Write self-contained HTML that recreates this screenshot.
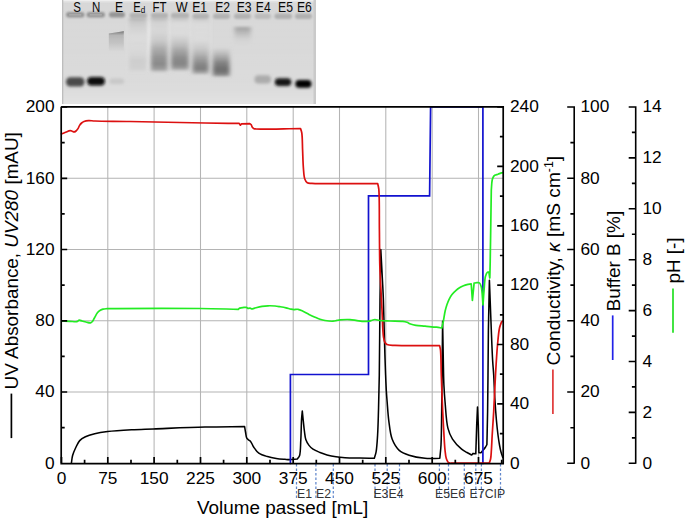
<!DOCTYPE html>
<html><head><meta charset="utf-8"><style>html,body{margin:0;padding:0;background:#fff;overflow:hidden}</style></head>
<body><svg width="685" height="519" viewBox="0 0 685 519" style="display:block">
<rect width="685" height="519" fill="#fff"/>
<defs><filter id="b1" x="-50%" y="-50%" width="200%" height="200%"><feGaussianBlur stdDeviation="1.4"/></filter><filter id="b2" x="-50%" y="-50%" width="200%" height="200%"><feGaussianBlur stdDeviation="1.3"/></filter><filter id="b3" x="-50%" y="-50%" width="200%" height="200%"><feGaussianBlur stdDeviation="0.8"/></filter><filter id="b4" x="-50%" y="-50%" width="200%" height="200%"><feGaussianBlur stdDeviation="2.0"/></filter><filter id="b5" x="-50%" y="-50%" width="200%" height="200%"><feGaussianBlur stdDeviation="0.5"/></filter><filter id="bx" x="-50%" y="-50%" width="200%" height="200%"><feGaussianBlur stdDeviation="2.0 1.1"/></filter><clipPath id="gc"><rect x="62" y="0" width="254" height="104"/></clipPath><linearGradient id="vg1" x1="0" y1="0" x2="0" y2="1"><stop offset="0.000" stop-color="#fff" stop-opacity="0"/><stop offset="0.481" stop-color="#fff" stop-opacity="0.03"/><stop offset="0.865" stop-color="#fff" stop-opacity="0.1"/><stop offset="0.962" stop-color="#fff" stop-opacity="0.22"/><stop offset="1.000" stop-color="#fff" stop-opacity="0.3"/></linearGradient><linearGradient id="vg2" x1="0" y1="0" x2="0" y2="1"><stop offset="0.000" stop-color="#e8e8e8" stop-opacity="0"/><stop offset="0.085" stop-color="#e8e8e8" stop-opacity="0.9"/><stop offset="0.864" stop-color="#e8e8e8" stop-opacity="0.9"/><stop offset="1.000" stop-color="#e8e8e8" stop-opacity="0"/></linearGradient><linearGradient id="vg3" x1="0" y1="0" x2="0" y2="1"><stop offset="0.000" stop-color="#e2e2e2" stop-opacity="0"/><stop offset="0.085" stop-color="#e2e2e2" stop-opacity="0.7"/><stop offset="0.864" stop-color="#e2e2e2" stop-opacity="0.7"/><stop offset="1.000" stop-color="#e2e2e2" stop-opacity="0"/></linearGradient><linearGradient id="vg4" x1="0" y1="0" x2="0" y2="1"><stop offset="0.000" stop-color="#e0e0e0" stop-opacity="0"/><stop offset="0.085" stop-color="#e0e0e0" stop-opacity="0.6"/><stop offset="0.864" stop-color="#e0e0e0" stop-opacity="0.6"/><stop offset="1.000" stop-color="#e0e0e0" stop-opacity="0"/></linearGradient><linearGradient id="vg5" x1="0" y1="0" x2="0" y2="1"><stop offset="0.000" stop-color="#dedede" stop-opacity="0"/><stop offset="0.085" stop-color="#dedede" stop-opacity="0.5"/><stop offset="0.864" stop-color="#dedede" stop-opacity="0.5"/><stop offset="1.000" stop-color="#dedede" stop-opacity="0"/></linearGradient><linearGradient id="vg6" x1="0" y1="0" x2="0" y2="1"><stop offset="0.000" stop-color="#e0e0e0" stop-opacity="0"/><stop offset="0.085" stop-color="#e0e0e0" stop-opacity="0.5"/><stop offset="0.864" stop-color="#e0e0e0" stop-opacity="0.5"/><stop offset="1.000" stop-color="#e0e0e0" stop-opacity="0"/></linearGradient><linearGradient id="gE" x1="0" y1="0" x2="0" y2="1"><stop offset="0" stop-color="#505050" stop-opacity="0.95"/><stop offset="0.06" stop-color="#6a6a6a" stop-opacity="0.7"/><stop offset="0.2" stop-color="#939393" stop-opacity="0.5"/><stop offset="0.6" stop-color="#a0a0a0" stop-opacity="0.35"/><stop offset="1" stop-color="#aaa" stop-opacity="0"/></linearGradient><linearGradient id="vg7" x1="0" y1="0" x2="0" y2="1"><stop offset="0.000" stop-color="#a0a0a0" stop-opacity="0"/><stop offset="0.031" stop-color="#a0a0a0" stop-opacity="0.7"/><stop offset="0.063" stop-color="#b0b0b0" stop-opacity="0.45"/><stop offset="0.135" stop-color="#b8b8b8" stop-opacity="0.35"/><stop offset="0.225" stop-color="#c4c4c4" stop-opacity="0.2"/><stop offset="0.333" stop-color="#e2e2e2" stop-opacity="0.3"/><stop offset="0.586" stop-color="#d8d8d8" stop-opacity="0.2"/><stop offset="0.766" stop-color="#bcbcbc" stop-opacity="0.4"/><stop offset="0.910" stop-color="#bcbcbc" stop-opacity="0.35"/><stop offset="1.000" stop-color="#c0c0c0" stop-opacity="0"/></linearGradient><linearGradient id="vg8" x1="0" y1="0" x2="0" y2="1"><stop offset="0.000" stop-color="#a8a8a8" stop-opacity="0"/><stop offset="0.036" stop-color="#a8a8a8" stop-opacity="0.6"/><stop offset="0.089" stop-color="#c4c4c4" stop-opacity="0.35"/><stop offset="0.232" stop-color="#d0d0d0" stop-opacity="0.2"/><stop offset="0.411" stop-color="#a0a0a0" stop-opacity="0.25"/><stop offset="0.554" stop-color="#8c8c8c" stop-opacity="0.55"/><stop offset="0.714" stop-color="#848484" stop-opacity="0.8"/><stop offset="0.839" stop-color="#808080" stop-opacity="0.9"/><stop offset="0.929" stop-color="#868686" stop-opacity="0.75"/><stop offset="1.000" stop-color="#999" stop-opacity="0"/></linearGradient><linearGradient id="vg9" x1="0" y1="0" x2="0" y2="1"><stop offset="0.000" stop-color="#b0b0b0" stop-opacity="0"/><stop offset="0.036" stop-color="#b0b0b0" stop-opacity="0.4"/><stop offset="0.109" stop-color="#e0e0e0" stop-opacity="0.4"/><stop offset="0.309" stop-color="#e0e0e0" stop-opacity="0.3"/><stop offset="0.455" stop-color="#a0a0a0" stop-opacity="0.3"/><stop offset="0.600" stop-color="#888" stop-opacity="0.6"/><stop offset="0.745" stop-color="#7e7e7e" stop-opacity="0.85"/><stop offset="0.855" stop-color="#7a7a7a" stop-opacity="0.9"/><stop offset="0.927" stop-color="#808080" stop-opacity="0.7"/><stop offset="1.000" stop-color="#999" stop-opacity="0"/></linearGradient><linearGradient id="vg10" x1="0" y1="0" x2="0" y2="1"><stop offset="0.000" stop-color="#b8b8b8" stop-opacity="0"/><stop offset="0.034" stop-color="#b8b8b8" stop-opacity="0.3"/><stop offset="0.120" stop-color="#e0e0e0" stop-opacity="0.35"/><stop offset="0.393" stop-color="#e0e0e0" stop-opacity="0.3"/><stop offset="0.530" stop-color="#a8a8a8" stop-opacity="0.3"/><stop offset="0.667" stop-color="#8a8a8a" stop-opacity="0.6"/><stop offset="0.803" stop-color="#787878" stop-opacity="0.85"/><stop offset="0.889" stop-color="#747474" stop-opacity="0.9"/><stop offset="0.949" stop-color="#808080" stop-opacity="0.6"/><stop offset="1.000" stop-color="#999" stop-opacity="0"/></linearGradient><linearGradient id="vg11" x1="0" y1="0" x2="0" y2="1"><stop offset="0.000" stop-color="#999" stop-opacity="0"/><stop offset="0.290" stop-color="#808080" stop-opacity="0.5"/><stop offset="0.516" stop-color="#6c6c6c" stop-opacity="0.8"/><stop offset="0.742" stop-color="#626262" stop-opacity="0.92"/><stop offset="0.887" stop-color="#6a6a6a" stop-opacity="0.75"/><stop offset="1.000" stop-color="#888" stop-opacity="0"/></linearGradient><linearGradient id="vg12" x1="0" y1="0" x2="0" y2="1"><stop offset="0.000" stop-color="#999" stop-opacity="0"/><stop offset="0.137" stop-color="#9a9a9a" stop-opacity="0.8"/><stop offset="0.268" stop-color="#a0a0a0" stop-opacity="0.7"/><stop offset="0.463" stop-color="#aaa" stop-opacity="0.45"/><stop offset="0.707" stop-color="#bbb" stop-opacity="0.2"/><stop offset="1.000" stop-color="#c0c0c0" stop-opacity="0"/></linearGradient></defs>
<g clip-path="url(#gc)">
<rect x="62" y="0" width="254" height="104" fill="#d8d8d8"/>
<rect x="62" y="0" width="254" height="104" fill="url(#vg1)" filter="url(#b5)"/>
<rect x="62" y="0" width="254" height="1.5" fill="#eeeeee"/>
<rect x="62" y="1.5" width="254" height="1" fill="#e2e2e2"/>
<rect x="62" y="0" width="1.3" height="104" fill="#bdbdbd"/>
<rect x="313.5" y="0" width="2.5" height="104" fill="#cacaca"/>
<rect x="146.8" y="15" width="3.8000000000000114" height="59" fill="url(#vg2)" filter="url(#b3)"/>
<rect x="167.8" y="15" width="3.0" height="59" fill="url(#vg3)" filter="url(#b3)"/>
<rect x="188.8" y="15" width="3.0" height="59" fill="url(#vg4)" filter="url(#b3)"/>
<rect x="209.5" y="15" width="3.0" height="59" fill="url(#vg5)" filter="url(#b3)"/>
<rect x="126" y="15" width="2.5" height="59" fill="url(#vg6)" filter="url(#b3)"/>
<rect x="66" y="12.0" width="18.5" height="5.4" rx="2.7" fill="#959595" filter="url(#b2)"/>
<rect x="69" y="14.2" width="12.5" height="1.2" rx="0.6" fill="#bcbcbc" opacity="0.7" filter="url(#b5)"/>
<rect x="86.5" y="12.0" width="18.5" height="5.4" rx="2.7" fill="#959595" filter="url(#b2)"/>
<rect x="89.5" y="14.2" width="12.5" height="1.2" rx="0.6" fill="#bcbcbc" opacity="0.7" filter="url(#b5)"/>
<rect x="109" y="12.0" width="16" height="5.4" rx="2.7" fill="#959595" filter="url(#b2)"/>
<rect x="129.5" y="12.8" width="17.5" height="5.4" rx="2.7" fill="#b2b2b2" filter="url(#b2)"/>
<rect x="151" y="12.8" width="17" height="5.4" rx="2.7" fill="#b2b2b2" filter="url(#b2)"/>
<rect x="171" y="12.8" width="18" height="5.4" rx="2.7" fill="#b2b2b2" filter="url(#b2)"/>
<rect x="192.5" y="13.6" width="16.5" height="5.4" rx="2.7" fill="#b2b2b2" filter="url(#b2)"/>
<rect x="213" y="13.6" width="17" height="5.4" rx="2.7" fill="#b2b2b2" filter="url(#b2)"/>
<rect x="234" y="13.6" width="17" height="5.4" rx="2.7" fill="#b2b2b2" filter="url(#b2)"/>
<rect x="254.5" y="13.6" width="16.5" height="5.4" rx="2.7" fill="#bcbcbc" filter="url(#b2)"/>
<rect x="274.5" y="13.6" width="17.5" height="5.4" rx="2.7" fill="#b0b0b0" filter="url(#b2)"/>
<rect x="295" y="13.6" width="17" height="5.4" rx="2.7" fill="#b0b0b0" filter="url(#b2)"/>
<path d="M108.8,33.4 L123.8,31.2 L123.8,52 L108.8,52 Z" fill="url(#gE)" filter="url(#b5)"/>
<rect x="129" y="17.5" width="17.5" height="55.5" fill="url(#vg7)" filter="url(#bx)"/>
<rect x="151" y="17" width="16.5" height="56" fill="url(#vg8)" filter="url(#bx)"/>
<rect x="171.2" y="17" width="17.400000000000006" height="55" fill="url(#vg9)" filter="url(#bx)"/>
<rect x="192.6" y="17" width="16.0" height="58.5" fill="url(#vg10)" filter="url(#bx)"/>
<rect x="212.8" y="47" width="16.799999999999983" height="31" fill="url(#vg11)" filter="url(#bx)"/>
<rect x="234.5" y="25.5" width="16.30000000000001" height="20.5" fill="url(#vg12)" filter="url(#bx)"/>
<g filter="url(#b1)">
<rect x="66" y="77.3" width="18.5" height="9.2" rx="4.4" fill="#4a4a4a"/>
<rect x="87" y="77" width="18" height="8.5" rx="4.2" fill="#0a0a0a"/>
<rect x="109.5" y="78.5" width="14.5" height="5.5" rx="2.6" fill="#c8c8c8"/>
<rect x="254.5" y="75.2" width="16.5" height="8.4" rx="4" fill="#acacac"/>
<rect x="274.8" y="78.3" width="16.5" height="7.8" rx="3.8" fill="#161616"/>
<rect x="295.3" y="80" width="16.2" height="7.8" rx="3.8" fill="#030303"/>
</g>
<g font-family="Liberation Sans, sans-serif" font-size="14" fill="#0a0a0a" text-anchor="middle">
<text x="0" y="0" transform="translate(77.0 11.8) scale(0.82 1)">S</text>
<text x="0" y="0" transform="translate(96.2 11.8) scale(0.82 1)">N</text>
<text x="0" y="0" transform="translate(119.0 11.8) scale(0.87 1)">E</text>
<text x="0" y="0" transform="translate(159.6 11.8) scale(0.82 1)">FT</text>
<text x="0" y="0" transform="translate(181.6 11.8) scale(0.9 1)">W</text>
<text x="0" y="0" transform="translate(199.6 11.8) scale(0.87 1)">E1</text>
<text x="0" y="0" transform="translate(222.6 11.8) scale(0.87 1)">E2</text>
<text x="0" y="0" transform="translate(244.1 11.8) scale(0.87 1)">E3</text>
<text x="0" y="0" transform="translate(263.2 11.8) scale(0.87 1)">E4</text>
<text x="0" y="0" transform="translate(285.5 11.8) scale(0.87 1)">E5</text>
<text x="0" y="0" transform="translate(304.4 11.8) scale(0.87 1)">E6</text>
<text x="0" y="0" transform="translate(137.1 11.8) scale(0.8 1)">E</text>
<text x="0" y="0" font-size="9" transform="translate(143.0 12.6) scale(0.9 1)">d</text>
</g>
</g>
<path d="M107.8,107.0V463.3M154.1,107.0V463.3M200.5,107.0V463.3M246.8,107.0V463.3M293.2,107.0V463.3M339.5,107.0V463.3M385.8,107.0V463.3M432.2,107.0V463.3M478.5,107.0V463.3M61.45,392.0H503M61.45,320.8H503M61.45,249.5H503M61.45,178.3H503" stroke="#b4b4b4" stroke-width="1.05" fill="none"/>
<g fill="none" stroke-linejoin="round" stroke-linecap="round">
<path stroke="#000" stroke-width="1.55" d="M71.40,463.00C71.80,460.50 71.91,458.00 72.60,455.50C73.34,452.84 74.59,450.03 75.80,447.50C76.96,445.07 78.01,442.41 79.70,440.60C81.27,438.91 83.19,437.88 85.40,436.80C88.05,435.50 91.31,434.55 94.70,433.70C98.61,432.72 102.62,432.11 107.60,431.50C114.35,430.67 123.78,430.14 131.60,429.70C139.06,429.28 144.66,429.22 153.50,428.90C167.05,428.42 188.96,427.48 205.00,427.10C219.06,426.77 231.40,426.77 244.60,426.60C244.93,428.57 245.23,430.55 245.60,432.50C245.96,434.42 246.12,436.94 246.80,438.20C247.22,438.98 247.80,439.29 248.40,439.80C249.06,440.36 249.89,440.59 250.60,441.40C251.72,442.68 252.49,445.41 253.80,447.30C255.19,449.32 256.68,451.58 258.80,453.10C261.15,454.78 264.55,455.71 267.50,456.60C270.39,457.47 273.36,457.95 276.30,458.40C279.20,458.85 282.59,459.09 285.00,459.30C286.71,459.45 287.72,459.60 289.40,459.60C291.65,459.61 294.67,459.27 297.30,459.10C298.03,458.00 298.94,457.41 299.50,455.80C300.62,452.58 300.46,445.66 300.80,440.00C301.19,433.46 301.26,424.11 301.60,418.80C301.81,415.59 302.07,413.67 302.30,411.10C302.63,414.40 302.95,417.69 303.30,421.00C303.65,424.33 303.96,427.81 304.40,431.00C304.81,433.95 304.94,436.99 305.80,439.50C306.56,441.72 307.72,443.73 309.00,445.40C310.16,446.91 311.38,448.09 313.00,449.20C314.92,450.52 317.64,451.54 320.00,452.50C322.31,453.44 324.50,454.21 327.00,454.90C329.79,455.67 332.99,456.33 336.00,456.80C338.99,457.26 341.61,457.49 345.00,457.70C349.36,457.98 355.06,458.00 360.00,458.10C364.82,458.20 369.53,458.23 374.30,458.30C374.90,456.17 375.61,454.57 376.10,451.90C376.88,447.64 377.21,441.19 377.60,435.00C378.07,427.49 378.23,419.03 378.50,410.00C378.81,399.31 379.08,388.86 379.30,375.00C379.63,354.71 379.72,322.54 380.00,300.00C380.23,281.51 380.53,266.33 380.80,249.50C381.13,255.67 381.48,261.96 381.80,268.00C382.11,273.79 382.43,279.51 382.70,285.00C382.96,290.16 383.19,294.14 383.40,300.00C383.70,308.28 383.94,320.46 384.20,330.00C384.44,338.71 384.65,347.13 384.90,355.00C385.12,362.04 385.34,368.60 385.60,375.00C385.84,380.90 386.09,387.01 386.40,392.00C386.64,395.92 386.87,398.52 387.20,402.50C387.63,407.76 387.98,414.70 388.80,420.80C389.63,426.97 390.16,434.10 392.20,439.30C393.90,443.63 396.21,447.62 399.20,450.30C401.95,452.77 405.31,453.92 409.10,455.20C413.69,456.75 419.77,457.80 425.00,458.30C430.00,458.78 434.87,458.30 439.80,458.30C440.20,453.87 440.69,450.75 441.00,445.00C441.57,434.44 441.56,417.09 441.80,400.00C442.12,377.39 442.33,347.47 442.60,321.20C442.83,334.13 443.06,348.48 443.30,360.00C443.49,369.25 443.55,377.41 443.90,385.00C444.19,391.36 444.53,396.12 445.10,402.50C445.79,410.23 446.18,421.44 447.90,428.10C449.07,432.63 450.33,435.69 452.50,439.10C454.81,442.73 458.81,446.76 461.60,449.10C463.52,450.70 465.24,451.48 467.00,452.50C468.60,453.43 470.13,454.17 471.70,455.00L473.00,453.40L475.80,453.80L476.70,425.00L477.50,407.00L478.30,425.00L478.90,452.80L480.90,452.80C481.67,451.90 482.45,451.02 483.20,450.10C483.95,449.18 484.77,448.25 485.40,447.30C485.99,446.41 486.40,445.50 486.90,444.60C487.13,433.60 487.42,422.89 487.60,411.60C487.79,399.72 487.87,387.83 488.00,375.00C488.14,360.77 488.18,345.38 488.40,330.00C488.63,313.82 489.07,296.80 489.40,280.20C490.03,296.80 490.71,315.49 491.30,330.00C491.76,341.26 492.12,351.72 492.60,360.00C492.94,365.86 493.36,369.47 493.70,375.00C494.11,381.85 494.34,390.42 494.80,398.00C495.25,405.42 495.81,413.37 496.40,420.00C496.89,425.48 497.42,430.51 498.00,435.00C498.47,438.68 498.95,441.97 499.50,445.00C499.96,447.55 500.41,449.82 501.00,452.00C501.53,453.96 502.20,455.67 502.80,457.50"/>
<path stroke="#1212cf" stroke-width="1.7" stroke-linejoin="miter" d="M290.40,463.50L290.40,374.50L368.50,374.50L368.50,195.90L429.60,195.90L430.60,107.00L482.90,107.00L482.90,463.50"/>
<path stroke="#dc1010" stroke-width="1.7" d="M61.50,133.90C62.67,133.43 63.71,132.98 65.00,132.50C66.58,131.92 68.97,130.75 70.30,130.70C71.09,130.67 71.58,130.98 72.20,131.20C72.82,131.42 73.39,132.01 74.00,132.00C74.65,131.99 75.38,131.49 76.00,131.00C76.73,130.42 77.41,129.50 78.00,128.60C78.63,127.64 78.97,126.36 79.60,125.40C80.19,124.50 80.84,123.66 81.60,123.00C82.32,122.37 83.03,121.88 84.00,121.50C85.25,121.01 86.93,120.71 88.60,120.60C90.55,120.47 92.01,120.89 95.00,121.00C101.99,121.27 116.14,121.26 130.00,121.50C150.29,121.85 184.85,122.68 205.00,123.00C218.61,123.22 227.80,123.27 239.20,123.40L240.40,125.20L241.60,123.80L249.80,123.60C250.20,123.90 250.64,124.06 251.00,124.50C251.51,125.12 251.75,126.47 252.30,127.20C252.78,127.83 253.36,128.40 254.00,128.70C254.60,128.98 254.89,128.92 256.00,129.00C261.18,129.36 285.67,128.67 300.50,128.50C300.93,130.00 301.47,130.99 301.80,133.00C302.43,136.83 302.34,144.25 302.60,150.00C302.87,155.91 302.95,162.74 303.40,168.00C303.75,172.12 303.82,176.36 304.80,179.00C305.42,180.69 306.12,182.06 307.30,182.80C308.50,183.55 309.52,183.24 312.00,183.40C321.24,184.00 355.80,183.53 377.70,183.60C378.07,185.47 378.51,186.46 378.80,189.20C379.57,196.53 379.23,216.92 379.40,230.00C379.56,242.11 379.52,254.96 379.80,265.00C380.01,272.60 380.36,277.96 380.70,285.00C381.08,292.87 381.54,301.51 382.00,310.00C382.47,318.83 382.60,331.43 383.50,337.00C383.91,339.56 384.24,341.19 385.00,342.50C385.54,343.42 385.99,344.02 387.00,344.50C388.70,345.32 391.25,345.18 395.00,345.40C403.84,345.92 424.73,345.53 439.60,345.60C439.90,347.07 440.26,347.92 440.50,350.00C441.08,354.91 440.98,365.88 441.30,375.00C441.69,386.04 442.22,401.17 442.70,411.60C443.06,419.39 443.40,425.41 443.80,432.00C444.17,438.19 444.47,445.10 445.00,450.00C445.37,453.40 445.58,456.37 446.30,458.60C446.80,460.14 447.31,461.54 448.20,462.30C448.95,462.94 450.07,462.90 451.00,463.20L489.20,463.20C489.67,461.80 490.25,460.69 490.60,459.00C491.10,456.59 491.16,453.38 491.40,450.00C491.71,445.64 491.87,440.55 492.20,435.00C492.61,428.06 493.21,420.27 493.70,411.60C494.31,400.76 494.83,386.59 495.50,375.00C496.11,364.50 496.71,353.58 497.50,345.00C498.10,338.53 498.57,332.19 499.50,328.00C500.07,325.45 500.83,324.00 501.50,322.00C502.00,321.67 502.50,321.33 503.00,321.00"/>
<path stroke="#22ec22" stroke-width="1.7" d="M62.00,320.90C64.67,321.03 67.43,321.18 70.00,321.30C72.38,321.41 75.25,322.06 76.90,321.60C77.97,321.30 78.50,320.53 79.30,320.00C80.20,320.33 81.00,320.69 82.00,321.00C83.19,321.37 84.61,321.71 86.00,322.00C87.47,322.31 89.46,323.06 90.60,322.80C91.39,322.62 91.84,322.12 92.40,321.50C93.15,320.67 93.66,319.28 94.40,318.00C95.30,316.44 96.28,314.15 97.40,312.80C98.29,311.72 99.30,310.93 100.30,310.30C101.18,309.74 101.99,309.37 103.00,309.10C104.18,308.79 105.44,308.79 107.00,308.70C109.21,308.58 110.92,308.63 115.00,308.60C128.30,308.51 177.24,308.28 200.00,308.50C215.28,308.65 225.53,309.03 238.30,309.30L239.50,308.20C241.00,307.93 242.71,307.54 244.00,307.40C244.95,307.30 245.67,307.33 246.50,307.30L248.00,308.50C248.67,308.40 249.34,308.12 250.00,308.20C250.68,308.28 251.33,308.73 252.00,309.00C253.33,308.60 254.53,308.19 256.00,307.80C257.79,307.32 259.99,306.73 262.00,306.40C263.99,306.07 265.92,305.87 268.00,305.80C270.24,305.72 272.87,305.82 275.00,306.00C276.81,306.15 278.26,306.42 280.00,306.70C281.91,307.01 284.10,307.36 286.00,307.80C287.75,308.21 289.54,308.90 291.00,309.20C292.12,309.43 292.93,309.57 294.00,309.60C295.24,309.64 296.62,309.10 298.00,309.30C299.60,309.53 301.28,310.42 303.00,311.20C304.94,312.08 306.99,313.39 309.00,314.40C310.99,315.39 313.08,316.37 315.00,317.20C316.73,317.95 318.32,318.65 320.00,319.20C321.65,319.74 323.12,320.18 325.00,320.50C327.34,320.90 330.80,321.32 333.00,321.20C334.57,321.11 335.76,320.63 337.00,320.40C338.07,320.20 338.70,320.03 340.00,319.90C342.35,319.67 346.97,319.43 350.00,319.60C352.55,319.74 354.64,320.30 357.00,320.60C359.41,320.90 362.13,321.33 364.30,321.40C366.04,321.46 367.62,321.45 369.00,321.20C370.13,320.99 371.00,320.49 372.00,320.20C372.97,319.92 373.81,319.52 374.90,319.50C376.30,319.48 377.79,320.26 379.70,320.50C382.47,320.85 386.38,320.86 390.00,321.00C394.03,321.16 399.70,321.02 402.80,321.40C404.59,321.62 405.69,321.85 407.00,322.30C408.25,322.73 409.17,323.51 410.50,324.00C412.10,324.59 413.93,325.05 416.00,325.40C418.62,325.85 421.81,325.92 425.00,326.20C428.62,326.52 433.50,326.83 436.60,327.20C438.68,327.45 440.07,327.73 441.80,328.00C442.27,326.00 442.72,324.32 443.20,322.00C443.85,318.85 444.46,313.98 445.20,310.80C445.76,308.38 446.32,306.48 447.00,304.50C447.63,302.67 448.27,300.97 449.10,299.30C449.93,297.63 450.87,295.96 452.00,294.50C453.11,293.06 454.50,291.75 455.80,290.60C457.00,289.54 458.20,288.61 459.50,287.80C460.77,287.01 462.19,286.35 463.50,285.80C464.69,285.30 465.77,284.93 467.00,284.60C468.32,284.25 469.80,284.07 471.20,283.80L472.40,300.40L474.10,283.20C475.07,283.03 476.08,282.74 477.00,282.70C477.84,282.66 478.75,282.46 479.40,282.90C480.24,283.47 480.70,284.77 481.20,286.50C482.27,290.22 482.40,298.83 483.00,305.00C483.33,300.33 483.59,295.73 484.00,291.00C484.42,286.13 484.55,279.55 485.50,276.20C486.03,274.35 486.72,272.59 487.50,272.10C487.93,271.83 488.43,272.10 488.90,272.10L489.80,278.00C489.93,272.67 490.07,268.25 490.20,262.00C490.38,253.16 490.53,241.26 490.70,230.00C490.89,217.41 491.10,203.33 491.30,190.00C491.60,186.67 491.68,182.34 492.20,180.00C492.50,178.68 492.81,177.82 493.30,177.00C493.71,176.31 494.13,175.75 494.80,175.30C495.62,174.75 496.91,174.59 498.00,174.20C499.14,173.79 500.57,173.20 501.50,172.90C502.10,172.71 502.50,172.63 503.00,172.50"/>
</g>
<g stroke="#6187cc" stroke-width="1.25" stroke-dasharray="2.4 2.1">
<path d="M296.5,464V498M315.9,464V498M333.3,464V498M375,464V498M387.2,464V498M399.5,464V498M439.4,464V498M448.5,464V498M464.3,464V498M475.8,464V498M481.4,464V498M500.5,464V498"/>
</g>
<g font-family="Liberation Sans, sans-serif" font-size="12.3" fill="#333">
<text x="297" y="497.6">E1</text>
<text x="316" y="497.6">E2</text>
<text x="373.4" y="497.6">E3E4</text>
<text x="435" y="497.6">E5E6</text>
<text x="469.6" y="497.6">E7CIP</text>
</g>

<path d="M61.2,106.8H503.2V463.7M61.2,106.8V463.7H504" stroke="#000" stroke-width="1.7" fill="none"/>
<path d="M61.2,427.7h3.5M61.2,392.0h6M61.2,356.4h3.5M61.2,320.8h6M61.2,285.1h3.5M61.2,249.5h6M61.2,213.9h3.5M61.2,178.3h6M61.2,142.6h3.5M61.2,107.0h6M61.5,463v-6M84.6,463v-3.3M107.8,463v-6M131.0,463v-3.3M154.1,463v-6M177.3,463v-3.3M200.5,463v-6M223.6,463v-3.3M246.8,463v-6M270.0,463v-3.3M293.2,463v-6M316.3,463v-3.3M339.5,463v-6M362.7,463v-3.3M385.8,463v-6M409.0,463v-3.3M432.2,463v-6M455.3,463v-3.3M478.5,463v-6M501.7,463v-3.3M503.2,433.6h-3.3M503.2,403.9h-6M503.2,374.2h-3.3M503.2,344.5h-6M503.2,314.8h-3.3M503.2,285.1h-6M503.2,255.5h-3.3M503.2,225.8h-6M503.2,196.1h-3.3M503.2,166.4h-6M503.2,136.7h-3.3M503.2,107.0h-6" stroke="#000" stroke-width="1.7" fill="none"/>
<path d="M574.2,106.2V463.8M574.2,463.3h-7M574.2,427.7h-3.8M574.2,392.0h-7M574.2,356.4h-3.8M574.2,320.8h-7M574.2,285.1h-3.8M574.2,249.5h-7M574.2,213.9h-3.8M574.2,178.3h-7M574.2,142.6h-3.8M574.2,107.0h-7M635.7,106.2V463.8M635.7,463.3h-7M635.7,437.9h-3.8M635.7,412.4h-7M635.7,386.9h-3.8M635.7,361.5h-7M635.7,336.1h-3.8M635.7,310.6h-7M635.7,285.1h-3.8M635.7,259.7h-7M635.7,234.2h-3.8M635.7,208.8h-7M635.7,183.4h-3.8M635.7,157.9h-7M635.7,132.4h-3.8M635.7,107.0h-7" stroke="#000" stroke-width="1.6" fill="none"/>
<g font-family="Liberation Sans, sans-serif" font-size="17.3" fill="#000"><text x="54.5" y="468.6" text-anchor="end">0</text><text x="54.5" y="397.3" text-anchor="end">40</text><text x="54.5" y="326.1" text-anchor="end">80</text><text x="54.5" y="254.8" text-anchor="end">120</text><text x="54.5" y="183.6" text-anchor="end">160</text><text x="54.5" y="112.3" text-anchor="end">200</text><text x="61.5" y="483.8" text-anchor="middle">0</text><text x="107.8" y="483.8" text-anchor="middle">75</text><text x="154.1" y="483.8" text-anchor="middle">150</text><text x="200.5" y="483.8" text-anchor="middle">225</text><text x="246.8" y="483.8" text-anchor="middle">300</text><text x="293.2" y="483.8" text-anchor="middle">375</text><text x="339.5" y="483.8" text-anchor="middle">450</text><text x="385.8" y="483.8" text-anchor="middle">525</text><text x="432.2" y="483.8" text-anchor="middle">600</text><text x="478.5" y="483.8" text-anchor="middle">675</text><text x="510" y="468.6">0</text><text x="510" y="409.2">40</text><text x="510" y="349.8">80</text><text x="510" y="290.4">120</text><text x="510" y="231.1">160</text><text x="510" y="171.7">200</text><text x="510" y="112.3">240</text><text x="580.5" y="468.6">0</text><text x="580.5" y="397.3">20</text><text x="580.5" y="326.1">40</text><text x="580.5" y="254.8">60</text><text x="580.5" y="183.6">80</text><text x="580.5" y="112.3">100</text><text x="642.5" y="468.6">0</text><text x="642.5" y="417.7">2</text><text x="642.5" y="366.8">4</text><text x="642.5" y="315.9">6</text><text x="642.5" y="265.0">8</text><text x="642.5" y="214.1">10</text><text x="642.5" y="163.2">12</text><text x="642.5" y="112.3">14</text></g>
<g font-family="Liberation Sans, sans-serif" font-size="18.9" fill="#000">
<text x="282.6" y="513.6" text-anchor="middle">Volume passed [mL]</text>
<text transform="translate(17.5 389.4) rotate(-90)">UV Absorbance, <tspan font-style="italic">UV280</tspan> [mAU]</text>
<text transform="translate(559.7 365.4) rotate(-90)" font-size="19.15">Conductivity, <tspan font-style="italic">κ</tspan> [mS cm<tspan dy="-7" font-size="12.2">-1</tspan><tspan dy="7">]</tspan></text>
<text transform="translate(619.6 311.3) rotate(-90)">Buffer B [%]</text>
<text transform="translate(679.6 283.6) rotate(-90)">pH [-]</text>
</g>
<g stroke-width="1.7">
<path d="M11.4,393.6V438.1" stroke="#000"/>
<path d="M552.9,369.4V414" stroke="#e03838"/>
<path d="M612.7,315.4V360" stroke="#2222e8"/>
<path d="M673,288.4V332.7" stroke="#22e022"/>
</g>

</svg></body></html>
